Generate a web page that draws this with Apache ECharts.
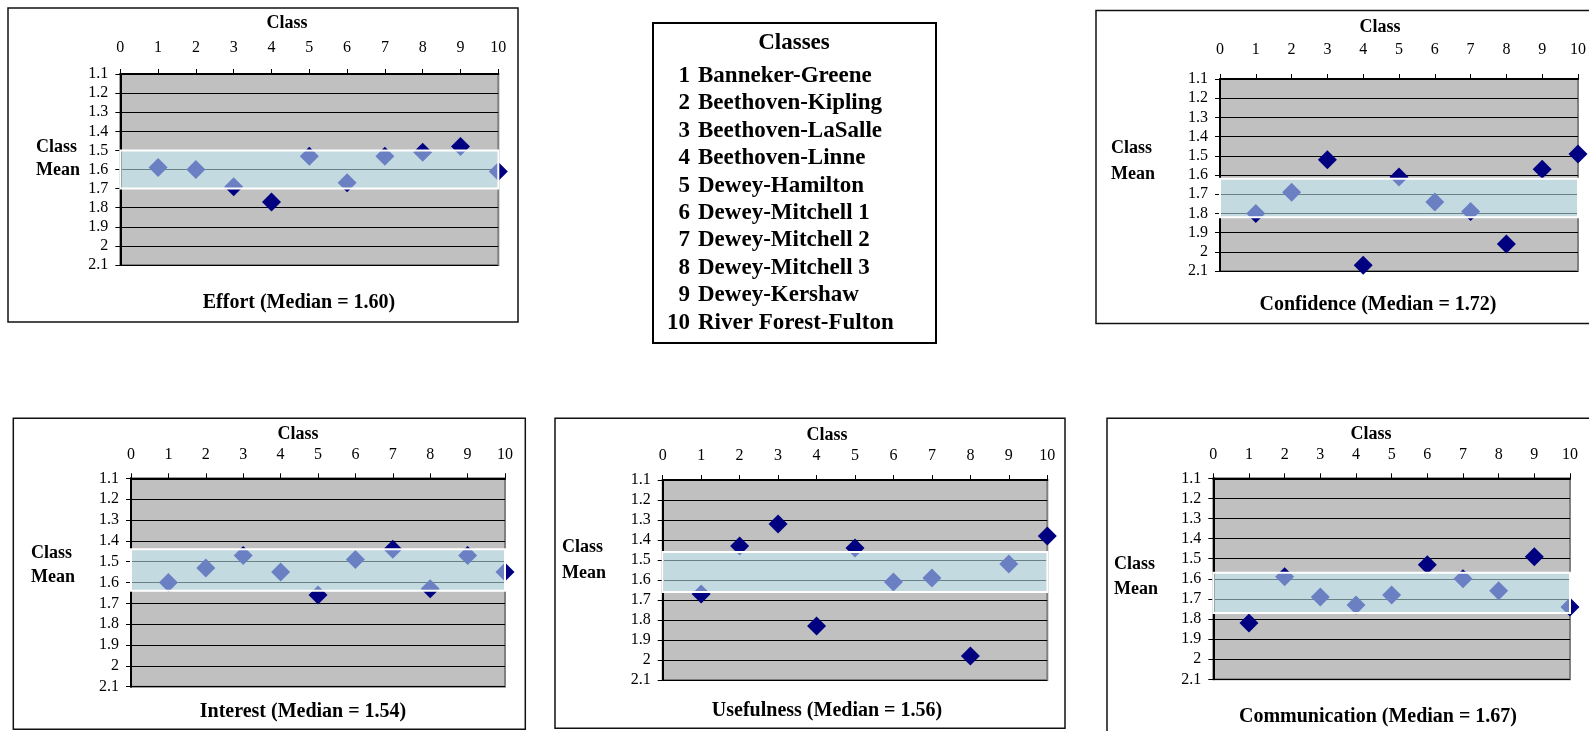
<!DOCTYPE html>
<html>
<head>
<meta charset="utf-8">
<script src="https://cdn.jsdelivr.net/npm/echarts@6/dist/echarts.min.js"></script>
<style>
  html, body { margin: 0; padding: 0; background: #fff; }
  #chart { width: 1589px; height: 731px; }
</style>
</head>
<body>
<div id="chart"></div>
<script>
// ---- data ----
const classNumbers = [1, 2, 3, 4, 5, 6, 7, 8, 9, 10];
const classNames = [
  'Banneker-Greene', 'Beethoven-Kipling', 'Beethoven-LaSalle', 'Beethoven-Linne',
  'Dewey-Hamilton', 'Dewey-Mitchell 1', 'Dewey-Mitchell 2', 'Dewey-Mitchell 3',
  'Dewey-Kershaw', 'River Forest-Fulton'
];

const effortMeans        = [1.59, 1.60, 1.69, 1.77, 1.53, 1.67, 1.53, 1.51, 1.48, 1.61];
const confidenceMeans    = [1.80, 1.69, 1.52, 2.07, 1.61, 1.74, 1.79, 1.96, 1.57, 1.49];
const interestMeans      = [1.60, 1.53, 1.47, 1.55, 1.66, 1.49, 1.44, 1.63, 1.47, 1.55];
const usefulnessMeans    = [1.67, 1.43, 1.32, 1.83, 1.44, 1.61, 1.59, 1.98, 1.52, 1.38];
const communicationMeans = [1.82, 1.59, 1.69, 1.73, 1.68, 1.53, 1.60, 1.66, 1.49, 1.74];

const measureNames = ['Effort', 'Confidence', 'Interest', 'Usefulness', 'Communication'];
const medians      = [1.60, 1.72, 1.54, 1.56, 1.67];
const bandLow      = [1.50, 1.62, 1.44, 1.46, 1.57];
const bandHigh     = [1.70, 1.82, 1.64, 1.66, 1.77];
const allMeans = [effortMeans, confidenceMeans, interestMeans, usefulnessMeans, communicationMeans];

// axis ranges
const xMin = 0, xMax = 10, xStep = 1;
const yMin = 1.1, yMax = 2.1, yStep = 0.1;

// ---- layout of the five panels ----
const panels = [
  { frame: [8, 8, 510, 314],     grid: [120.3, 74, 378, 191],    xName: [287, 23],    title: [299, 303],   mean: [36, 147, 170],   xMargin: 18 },
  { frame: [1096, 10.5, 520, 313], grid: [1220, 79, 361.7, 192],  xName: [1380, 27.5], title: [1378, 305],  mean: [1111, 148, 174], xMargin: 21 },
  { frame: [13.3, 418.3, 512, 311], grid: [131, 478.3, 374, 208.4], xName: [298, 434],  title: [303, 711.5], mean: [31, 553, 577],   xMargin: 16 },
  { frame: [555, 418.3, 510, 310], grid: [662.7, 480, 384.6, 200], xName: [827, 435],   title: [827, 711],   mean: [562, 547, 573],  xMargin: 16 },
  { frame: [1107, 418.3, 520, 330], grid: [1213.3, 478.3, 356.7, 201], xName: [1371, 434], title: [1378, 717], mean: [1114, 564, 589], xMargin: 16 }
];

const SERIF = '"Liberation Serif", "Times New Roman", serif';
const NAVY = '#000080';
const yFmt = v => String(parseFloat(v.toFixed(1)));

const grids = [], xAxes = [], yAxes = [], series = [], graphics = [];

panels.forEach((p, i) => {
  const [gl, gt, gw, gh] = p.grid;
  grids.push({
    left: gl, top: gt, width: gw, height: gh,
    show: true, backgroundColor: '#c0c0c0',
    borderColor: '#808080', borderWidth: 2
  });
  xAxes.push({
    gridIndex: i, type: 'value', position: 'top',
    min: xMin, max: xMax, interval: xStep,
    axisLine: { show: true, onZero: false, lineStyle: { color: '#000', width: 2 } },
    axisTick: { show: true, inside: false, length: 5, lineStyle: { color: '#000', width: 1 } },
    axisLabel: { show: true, margin: p.xMargin, color: '#000', fontSize: 16, fontFamily: SERIF },
    splitLine: { show: false }
  });
  yAxes.push({
    gridIndex: i, type: 'value', inverse: true,
    min: yMin, max: yMax, interval: yStep,
    axisLine: { show: true, onZero: false, lineStyle: { color: '#000', width: 2 } },
    axisTick: { show: true, inside: false, length: 5, lineStyle: { color: '#000', width: 1 } },
    axisLabel: { show: true, margin: 12, color: '#000', fontSize: 16, fontFamily: SERIF, formatter: yFmt },
    splitLine: { show: true, lineStyle: { color: '#000', width: 1 } }
  });
  series.push({
    type: 'scatter',
    xAxisIndex: i, yAxisIndex: i,
    data: classNumbers.map((c, k) => [c, allMeans[i][k]]),
    symbol: 'diamond', symbolSize: 19,
    itemStyle: { color: NAVY, opacity: 1 },
    clip: false, silent: true, z: 2,
    markArea: {
      silent: true, z: 5,
      itemStyle: { color: 'rgba(200,241,255,0.53)', borderColor: '#ffffff', borderWidth: 2 },
      data: [[{ yAxis: bandLow[i] }, { yAxis: bandHigh[i] }]]
    }
  });

  const [fx, fy, fw, fh] = p.frame;
  graphics.push({
    type: 'rect', shape: { x: fx, y: fy, width: fw, height: fh },
    style: { fill: 'none', stroke: '#111', lineWidth: 1.5 }, silent: true, z: 0
  });
  graphics.push({
    type: 'text', x: p.xName[0], y: p.xName[1], silent: true,
    style: { text: 'Class', font: 'bold 18px ' + SERIF, fill: '#000', textAlign: 'center', verticalAlign: 'middle', textVerticalAlign: 'middle' }
  });
  graphics.push({
    type: 'text', x: p.mean[0], y: p.mean[1], silent: true,
    style: { text: 'Class', font: 'bold 18px ' + SERIF, fill: '#000', textAlign: 'left', verticalAlign: 'middle', textVerticalAlign: 'middle' }
  });
  graphics.push({
    type: 'text', x: p.mean[0], y: p.mean[2], silent: true,
    style: { text: 'Mean', font: 'bold 18px ' + SERIF, fill: '#000', textAlign: 'left', verticalAlign: 'middle', textVerticalAlign: 'middle' }
  });
  graphics.push({
    type: 'text', x: p.title[0], y: p.title[1], silent: true,
    style: {
      text: measureNames[i] + ' (Median = ' + medians[i].toFixed(2) + ')',
      font: 'bold 20px ' + SERIF, fill: '#000', textAlign: 'center', verticalAlign: 'middle', textVerticalAlign: 'middle'
    }
  });
});

// ---- class key box ----
const keyBox = { x: 653, y: 23, w: 283, h: 320, headY: 43, headX: 794, firstY: 76, step: 27.4, numRight: 690, nameLeft: 698 };
graphics.push({
  type: 'rect', shape: { x: keyBox.x, y: keyBox.y, width: keyBox.w, height: keyBox.h },
  style: { fill: '#fff', stroke: '#000', lineWidth: 2 }, silent: true
});
graphics.push({
  type: 'text', x: keyBox.headX, y: keyBox.headY, silent: true,
  style: { text: 'Classes', font: 'bold 23px ' + SERIF, fill: '#000', textAlign: 'center', verticalAlign: 'middle', textVerticalAlign: 'middle' }
});
classNumbers.forEach((n, k) => {
  const y = keyBox.firstY + k * keyBox.step;
  graphics.push({
    type: 'text', x: keyBox.numRight, y: y, silent: true,
    style: { text: String(n), font: 'bold 23px ' + SERIF, fill: '#000', textAlign: 'right', verticalAlign: 'middle', textVerticalAlign: 'middle' }
  });
  graphics.push({
    type: 'text', x: keyBox.nameLeft, y: y, silent: true,
    style: { text: classNames[k], font: 'bold 23px ' + SERIF, fill: '#000', textAlign: 'left', verticalAlign: 'middle', textVerticalAlign: 'middle' }
  });
});

const chart = echarts.init(document.getElementById('chart'), null, { renderer: 'canvas' });
chart.setOption({
  animation: false,
  backgroundColor: '#ffffff',
  grid: grids,
  xAxis: xAxes,
  yAxis: yAxes,
  series: series,
  graphic: { elements: graphics }
});
</script>
</body>
</html>
